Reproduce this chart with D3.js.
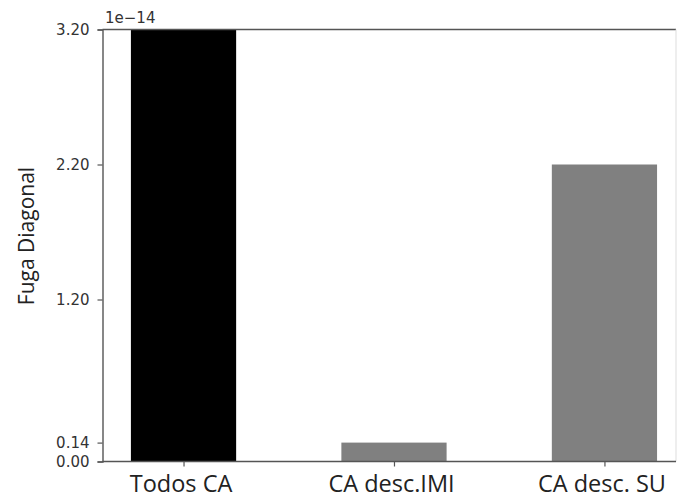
<!DOCTYPE html>
<html><head><meta charset="utf-8">
<script src="https://cdn.jsdelivr.net/npm/d3@7"></script>
<style>body{margin:0;background:#fff}svg{display:block}</style>
</head><body>
<script>
const categories = ["Todos CA", "CA desc.IMI", "CA desc. SU"];
const values = [3.20, 0.14, 2.20];
const colors = ["#000000", "#808080", "#808080"];
const yTicks = [0.00, 0.14, 1.20, 2.20, 3.20];

const W = 678, H = 500;
const svg = d3.select("body").append("svg").attr("width", W).attr("height", H);
const L = 102.5, R = 676, T = 29.5, B = 461.5;
const x = d3.scaleLinear().domain([-0.385, 2.34]).range([L, R]);
const y = d3.scaleLinear().domain([0, 3.2]).range([B, T]);
const bw = 0.5;

svg.selectAll("rect.bar").data(values).join("rect")
  .attr("x", (d, i) => x(i - bw / 2)).attr("width", (d, i) => x(i + bw / 2) - x(i - bw / 2))
  .attr("y", d => y(d)).attr("height", d => y(0) - y(d))
  .attr("fill", (d, i) => colors[i]);

// spines
svg.append("line").attr("x1", L).attr("x2", R).attr("y1", T).attr("y2", T).attr("stroke", "#555").attr("stroke-width", 1.4);
svg.append("line").attr("x1", R).attr("x2", R).attr("y1", T).attr("y2", B).attr("stroke", "#ddd").attr("stroke-width", 1);

const yAxis = d3.axisLeft(y).tickValues(yTicks).tickFormat(d3.format(".2f")).tickSize(5).tickPadding(8);
const gy = svg.append("g").attr("transform", `translate(${L},0)`).call(yAxis);
gy.select(".domain").attr("stroke", "#555").attr("stroke-width", 1.4);
gy.selectAll(".tick line").attr("stroke", "#555").attr("stroke-width", 1.2);
gy.selectAll("text").attr("font-family", "DejaVu Sans").attr("font-size", 15).attr("fill", "#333");

const xAxis = d3.axisBottom(x).tickValues([0, 1, 2]).tickFormat(i => categories[i]).tickSize(5).tickPadding(8).tickSizeOuter(0);
const gx = svg.append("g").attr("transform", `translate(0,${B})`).call(xAxis);
gx.select(".domain").attr("stroke", "#555").attr("stroke-width", 1.4).attr("d", `M${L},0H${R}`);
gx.selectAll(".tick line").attr("stroke", "#555").attr("stroke-width", 1.2);
gx.selectAll("text").attr("font-family", "Open Sans").attr("font-size", 23.5).attr("fill", "#222")
  .attr("dy", null).attr("y", 30.5).attr("dx", -3);

svg.append("text").attr("x", 105).attr("y", 23).attr("font-family", "DejaVu Sans").attr("font-size", 15).attr("fill", "#333").text("1e\u221214");

svg.append("text").attr("transform", `translate(34,${236}) rotate(-90)`).attr("text-anchor", "middle")
  .attr("font-family", "Open Sans").attr("font-size", 21).attr("fill", "#222").text("Fuga Diagonal");
</script>
</body></html>
